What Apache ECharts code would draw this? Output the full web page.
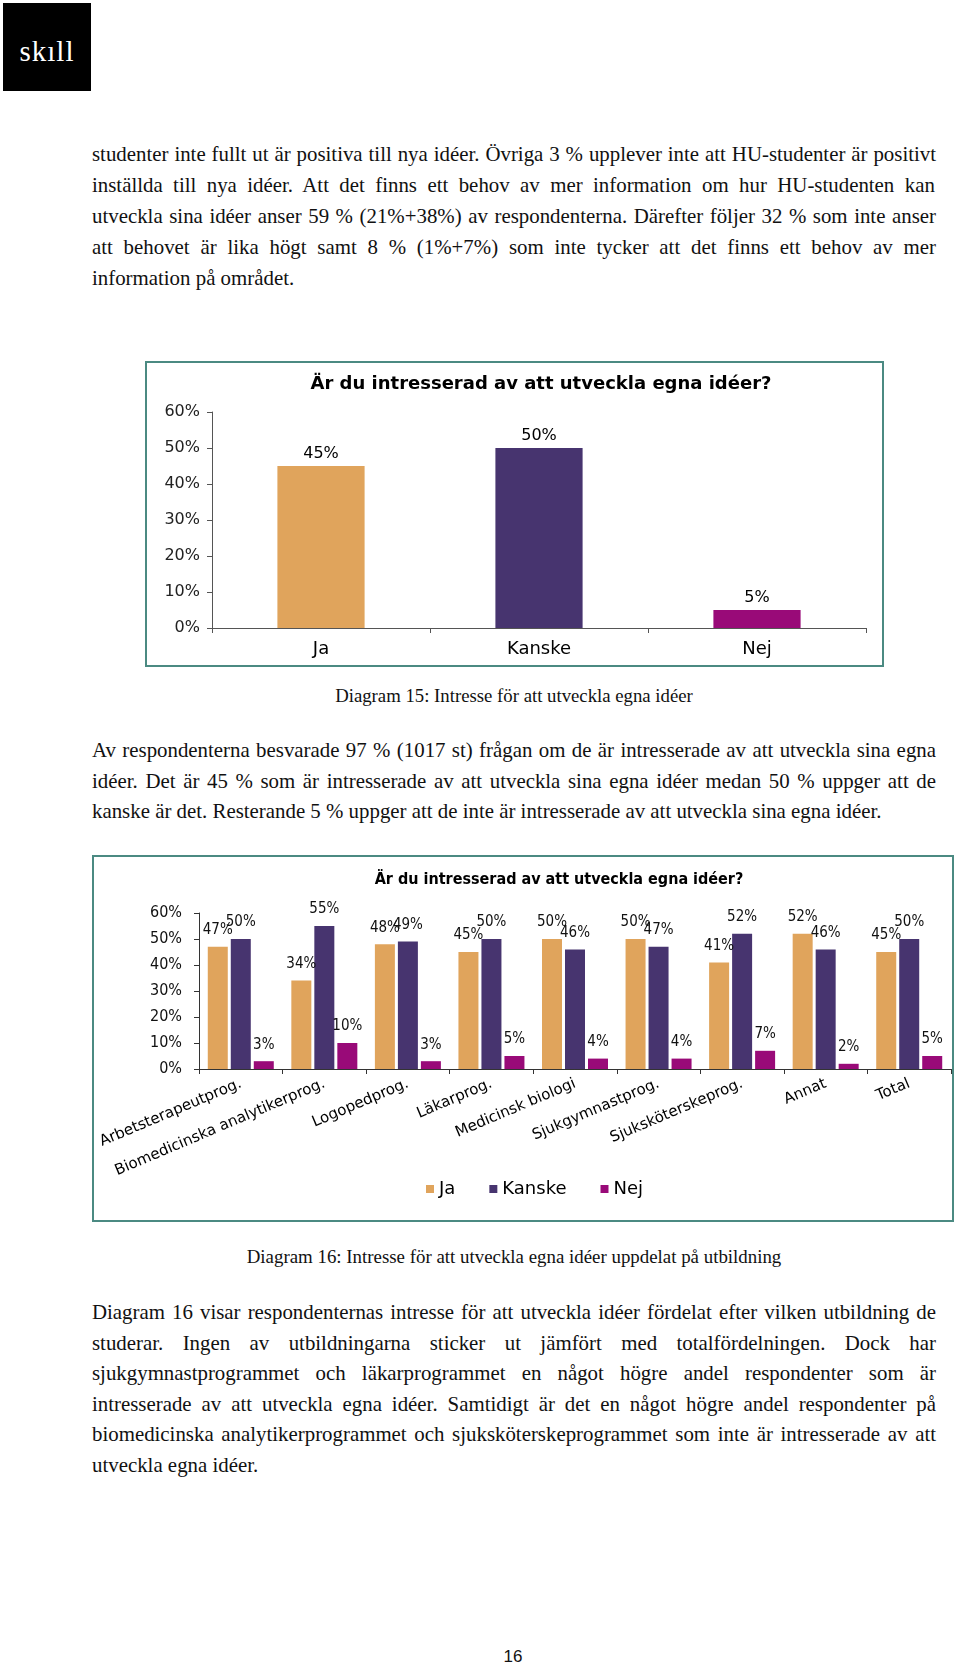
<!DOCTYPE html>
<html><head><meta charset="utf-8">
<script src="https://cdn.jsdelivr.net/npm/echarts@6/dist/echarts.min.js"></script>
<style>
html,body{margin:0;padding:0;background:#fff;}
body{width:960px;height:1664px;overflow:hidden;position:relative;}
.logo{position:absolute;left:3px;top:3px;width:88px;height:88px;background:#000;color:#fff;font-family:'Liberation Serif',serif;font-size:29px;line-height:96px;text-align:center;letter-spacing:1px;}
.ln{position:absolute;left:92px;white-space:nowrap;font-family:'Liberation Serif',serif;color:#111;line-height:20px;height:20px;}
.cap{position:absolute;left:0;width:1028px;text-align:center;white-space:nowrap;font-family:'Liberation Serif',serif;color:#111;line-height:20px;height:20px;}
.pn{position:absolute;left:0;width:1026px;text-align:center;font-family:'Liberation Sans',Arial,sans-serif;font-size:17px;line-height:20px;top:1647px;color:#111;}
.frame{position:absolute;box-sizing:border-box;border:2px solid #4b8a82;background:#fff;}
</style></head>
<body>
<div class="logo">skıll</div>
<div id="c1" class="frame" style="left:145px;top:361px;width:739px;height:306px;"></div>
<div id="c2" class="frame" style="left:92px;top:855px;width:862px;height:367px;"></div>
<div class="pn">16</div>
<script>
// ---------- chart data ----------
var cats1 = ['Ja', 'Kanske', 'Nej'];
var vals1 = [45, 50, 5];

var cats2 = ['Arbetsterapeutprog.', 'Biomedicinska analytikerprog.', 'Logopedprog.', 'Läkarprog.', 'Medicinsk biologi', 'Sjukgymnastprog.', 'Sjuksköterskeprog.', 'Annat', 'Total'];
var ja2 = [47, 34, 48, 45, 50, 50, 41, 52, 45];
var kanske2 = [50, 55, 49, 50, 46, 47, 52, 46, 50];
var nej2 = [3, 10, 3, 5, 4, 4, 7, 2, 5];
var seriesNames = ['Ja', 'Kanske', 'Nej'];
var yTicks = [0, 10, 20, 30, 40, 50, 60];

var colors = ['#e0a45c', '#47346f', '#990a78'];
var chartTitle = 'Är du intresserad av att utveckla egna idéer?';

// ---------- document text ----------
var p1 = [
 'studenter inte fullt ut är positiva till nya idéer. Övriga 3 % upplever inte att HU-studenter är positivt',
 'inställda till nya idéer. Att det finns ett behov av mer information om hur HU-studenten kan',
 'utveckla sina idéer anser 59 % (21%+38%) av respondenterna. Därefter följer 32 % som inte anser',
 'att behovet är lika högt samt 8 % (1%+7%) som inte tycker att det finns ett behov av mer',
 'information på området.'
];
var p2 = [
 'Av respondenterna besvarade 97 % (1017 st) frågan om de är intresserade av att utveckla sina egna',
 'idéer. Det är 45 % som är intresserade av att utveckla sina egna idéer medan 50 % uppger att de',
 'kanske är det. Resterande 5 % uppger att de inte är intresserade av att utveckla sina egna idéer.'
];
var p3 = [
 'Diagram 16 visar respondenternas intresse för att utveckla idéer fördelat efter vilken utbildning de',
 'studerar. Ingen av utbildningarna sticker ut jämfört med totalfördelningen. Dock har',
 'sjukgymnastprogrammet och läkarprogrammet en något högre andel respondenter som är',
 'intresserade av att utveckla egna idéer. Samtidigt är det en något högre andel respondenter på',
 'biomedicinska analytikerprogrammet och sjuksköterskeprogrammet som inte är intresserade av att',
 'utveckla egna idéer.'
];
var cap15 = 'Diagram 15: Intresse för att utveckla egna idéer';
var cap16 = 'Diagram 16: Intresse för att utveckla egna idéer uppdelat på utbildning';

var cv = document.createElement('canvas').getContext('2d');
function measure(txt, size) { cv.font = size + 'px "Liberation Serif"'; return cv.measureText(txt).width; }
var bodySize = 790 / measure(p2[2], 100) * 100;
var c15Size = 358 / measure(cap15, 100) * 100;
var c16Size = 535 / measure(cap16, 100) * 100;

function addLines(lines, centers) {
  lines.forEach(function (t, i) {
    var d = document.createElement('div');
    d.className = 'ln';
    d.textContent = t;
    d.style.fontSize = bodySize + 'px';
    d.style.top = (centers[i] - 10) + 'px';
    if (i < lines.length - 1) {
      var w = measure(t, bodySize);
      var n = (t.match(/ /g) || []).length;
      d.style.wordSpacing = ((844 - w) / n) + 'px';
    }
    document.body.appendChild(d);
  });
}
function addCap(t, size, center) {
  var d = document.createElement('div');
  d.className = 'cap';
  d.textContent = t;
  d.style.fontSize = size + 'px';
  d.style.top = (center - 10) + 'px';
  document.body.appendChild(d);
}
addLines(p1, [154, 185, 216, 247, 278]);
addCap(cap15, c15Size, 696);
addLines(p2, [750, 781, 811]);
addCap(cap16, c16Size, 1257);
addLines(p3, [1312, 1343, 1373, 1404, 1434, 1465]);

// ---------- chart 1 ----------
var ch1 = echarts.init(document.getElementById('c1'));
ch1.setOption({
  animation: false,
  graphic: [{ type: 'text', x: 394, y: 21, style: { text: chartTitle, font: 'bold 18px "DejaVu Sans"', fill: '#000', textAlign: 'center', textVerticalAlign: 'middle' } }],
  grid: { left: 65, right: 16, top: 49, bottom: 37 },
  xAxis: {
    type: 'category', data: cats1,
    axisLine: { lineStyle: { color: '#555', width: 1 } },
    axisTick: { show: true, length: 5, lineStyle: { color: '#555' } },
    axisLabel: { color: '#000', fontFamily: 'DejaVu Sans', fontSize: 18, margin: 12 }
  },
  yAxis: {
    type: 'value', min: 0, max: 60, interval: 10,
    axisLine: { show: true, lineStyle: { color: '#555', width: 1 } },
    axisTick: { show: true, length: 5, lineStyle: { color: '#555' } },
    splitLine: { show: false },
    axisLabel: { color: '#222', fontFamily: 'DejaVu Sans', fontSize: 16, margin: 12, formatter: '{value}%' }
  },
  series: [{
    type: 'bar', barWidth: '40%',
    data: vals1.map(function (v, i) { return { value: v, itemStyle: { color: colors[i] } }; }),
    label: { show: true, position: 'top', distance: 4, color: '#000', fontFamily: 'DejaVu Sans', fontSize: 16, formatter: '{c}%' }
  }]
});

// ---------- chart 2 ----------
var ch2 = echarts.init(document.getElementById('c2'));
var lbl2 = { show: true, position: 'top', distance: 9, color: '#111', fontFamily: '"DejaVu Sans Condensed", "DejaVu Sans"', fontSize: 15, formatter: '{c}%' };
ch2.setOption({
  animation: false,
  color: colors,
  graphic: [{ type: 'text', x: 465, y: 23, style: { text: chartTitle, font: 'bold 16px "DejaVu Sans Condensed", "DejaVu Sans"', fill: '#000', textAlign: 'center', textVerticalAlign: 'middle' } }],
  legend: {
    data: seriesNames, left: 327, top: 318, itemWidth: 8, itemHeight: 8, itemGap: 34, icon: 'rect',
    textStyle: { fontFamily: 'DejaVu Sans', fontSize: 18, color: '#000' }
  },
  grid: { left: 105, right: 1, top: 56, bottom: 151 },
  xAxis: {
    type: 'category', data: cats2,
    axisLine: { lineStyle: { color: '#333', width: 1 } },
    axisTick: { show: true, length: 5, lineStyle: { color: '#333' } },
    axisLabel: { color: '#000', fontFamily: 'DejaVu Sans', fontSize: 15, rotate: 23, margin: 14, interval: 0 }
  },
  yAxis: {
    type: 'value', min: yTicks[0], max: yTicks[yTicks.length - 1], interval: 10,
    axisLine: { show: true, lineStyle: { color: '#333', width: 1 } },
    axisTick: { show: true, length: 5, lineStyle: { color: '#333' } },
    splitLine: { show: false },
    axisLabel: { color: '#111', fontFamily: '"DejaVu Sans Condensed", "DejaVu Sans"', fontSize: 16, margin: 17, formatter: '{value}%' }
  },
  series: [
    { name: seriesNames[0], type: 'bar', data: ja2, barWidth: 20, barGap: '15%', label: lbl2 },
    { name: seriesNames[1], type: 'bar', data: kanske2, barWidth: 20, barGap: '15%', label: lbl2 },
    { name: seriesNames[2], type: 'bar', data: nej2, barWidth: 20, barGap: '15%', label: lbl2 }
  ]
});
</script>
</body></html>
